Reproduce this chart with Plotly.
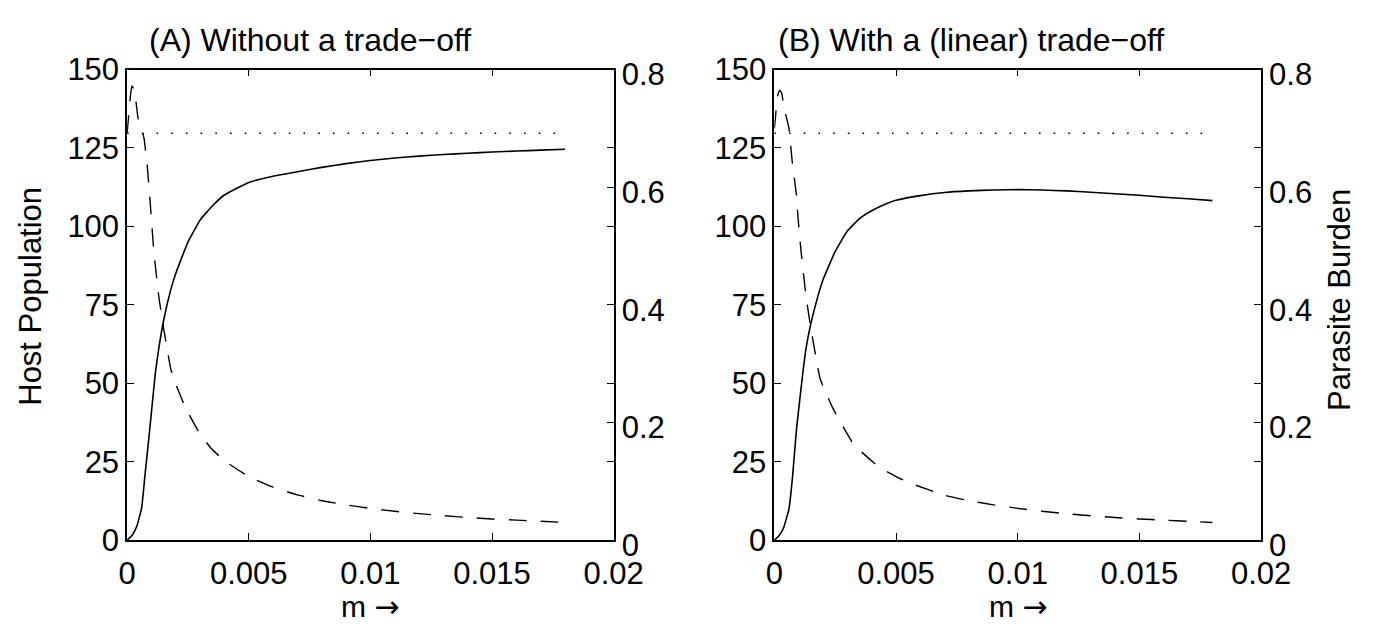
import plotly.graph_objects as go

# ---------------- data ----------------
# Panel A: without a trade-off
m_host_A = [0, 0.0002, 0.0004, 0.0006, 0.00073, 0.00093, 0.00116, 0.0013, 0.0015,
            0.0018, 0.002, 0.0025, 0.003, 0.0035, 0.004, 0.005, 0.006, 0.007, 0.008, 0.009,
            0.01, 0.011, 0.012, 0.013, 0.014, 0.015, 0.016, 0.017, 0.018]
host_A = [0, 1.5, 4.4, 10.4, 20.3, 35.3, 53.2, 61, 70,
          80, 85, 95, 102, 106.5, 110, 114, 116, 117.4, 118.8, 120.0,
          121.0, 121.8, 122.4, 122.9, 123.3, 123.7, 124.0, 124.3, 124.6]

m_para_A = [0, 0.00005, 0.0001, 0.00015, 0.0002, 0.0003, 0.00045, 0.0006, 0.0007, 0.00083,
            0.00097, 0.0011, 0.0013, 0.0015, 0.0018, 0.002, 0.0024, 0.003, 0.0035, 0.004,
            0.005, 0.006, 0.007, 0.008, 0.009, 0.01, 0.011, 0.012, 0.013, 0.014, 0.015,
            0.016, 0.017, 0.018]
para_A = [0.692, 0.715, 0.74, 0.76, 0.772, 0.765, 0.717, 0.70, 0.682, 0.635,
          0.562, 0.49, 0.415, 0.36, 0.29, 0.265, 0.225, 0.18, 0.154, 0.135,
          0.108, 0.09, 0.077, 0.067, 0.06, 0.054, 0.049, 0.045, 0.0415, 0.0385, 0.036,
          0.034, 0.032, 0.030]

# Panel B: with a (linear) trade-off
m_host_B = [0, 0.0002, 0.00037, 0.0006, 0.00075, 0.00091, 0.00117, 0.0013, 0.0015,
            0.0018, 0.002, 0.0025, 0.003, 0.0035, 0.004, 0.0046, 0.005, 0.006, 0.007, 0.008,
            0.009, 0.01, 0.011, 0.012, 0.013, 0.014, 0.015, 0.016, 0.017, 0.018]
host_B = [0, 1.5, 3.7, 9.9, 20.3, 35.3, 53.2, 61, 69,
          78, 83, 92, 98.5, 102.5, 105, 107.2, 108.3, 109.8, 110.8, 111.3,
          111.6, 111.7, 111.6, 111.3, 110.9, 110.4, 109.9, 109.3, 108.8, 108.2]

m_para_B = [0, 0.00005, 0.0001, 0.00015, 0.00022, 0.0003, 0.0004, 0.0006, 0.00073, 0.00091,
            0.00097, 0.0011, 0.0013, 0.0015, 0.00187, 0.002, 0.00242, 0.00318, 0.0035, 0.00431,
            0.005, 0.00563, 0.00703, 0.008, 0.009, 0.01, 0.011, 0.012, 0.013, 0.014, 0.015,
            0.016, 0.017, 0.018]
para_B = [0.70, 0.72, 0.745, 0.758, 0.765, 0.76, 0.735, 0.70, 0.645, 0.586,
          0.55, 0.49, 0.415, 0.36, 0.276, 0.262, 0.223, 0.168, 0.153, 0.124,
          0.108, 0.096, 0.076, 0.067, 0.06, 0.054, 0.049, 0.045, 0.0415, 0.0385, 0.036,
          0.034, 0.032, 0.030]

# dotted reference level (left axis units)
m_ref = [0, 0.018]
ref_level = [129.7, 129.7]

x_ticks = [0, 0.005, 0.01, 0.015, 0.02]
x_ticktext = ["0", "0.005", "0.01", "0.015", "0.02"]
y_ticks = [0, 25, 50, 75, 100, 125, 150]
y_ticktext = ["0", "25", "50", "75", "100", "125", "150"]
y2_ticks = [0, 0.2, 0.4, 0.6, 0.8]
y2_ticktext = ["0", "0.2", "0.4", "0.6", "0.8"]

titles = ["(A) Without a trade\u2212off", "(B) With a (linear) trade\u2212off"]
x_title = "m <span style=\"font-family:'DejaVu Sans'\">\u2192</span>"
y_title = "Host Population"
y2_title = "Parasite Burden"

# ---------------- figure ----------------
W, H = 1398, 640
FONT = "Liberation Sans"
FS = 30

def px_x(p):
    return p / W

def px_y(p):
    return 1 - p / H

box_A = (121.5, 622.0)
box_B = (787.3, 1288.0)
top, bottom = 56.0, 558.0

fig = go.Figure()

line_solid = dict(color="black", width=1.6, shape="spline", smoothing=0.35)
line_dash = dict(color="black", width=1.4, dash="18px,14px", shape="spline", smoothing=0.35)
line_dot = dict(color="black", width=1.6, dash="1.6px,13.1px")

fig.add_trace(go.Scatter(x=m_ref, y=ref_level, mode="lines", line=line_dot, xaxis="x", yaxis="y"))
fig.add_trace(go.Scatter(x=m_host_A, y=host_A, mode="lines", line=line_solid, xaxis="x", yaxis="y"))
fig.add_trace(go.Scatter(x=m_para_A, y=para_A, mode="lines", line=line_dash, xaxis="x", yaxis="y2"))

fig.add_trace(go.Scatter(x=m_ref, y=ref_level, mode="lines", line=line_dot, xaxis="x2", yaxis="y3"))
fig.add_trace(go.Scatter(x=m_host_B, y=host_B, mode="lines", line=line_solid, xaxis="x2", yaxis="y3"))
fig.add_trace(go.Scatter(x=m_para_B, y=para_B, mode="lines", line=line_dash, xaxis="x2", yaxis="y4"))

ydom = [px_y(bottom), px_y(top)]

common_axis = dict(
    showgrid=False, zeroline=False, showline=True, linecolor="black", linewidth=1.6,
    ticks="inside", ticklen=7, tickwidth=1.3, tickcolor="black",
    tickfont=dict(family=FONT, size=FS + 1, color="black"),
)

def xaxis(dom, anchor):
    return dict(common_axis, domain=dom, anchor=anchor, range=[0, 0.02],
                tickvals=x_ticks, ticktext=x_ticktext, mirror="ticks",
                ticklabelstandoff=5)

def yleft(anchor):
    return dict(common_axis, domain=ydom, anchor=anchor, range=[0, 150],
                tickvals=y_ticks, ticktext=y_ticktext, mirror="ticks")

def yright(anchor, over):
    return dict(common_axis, domain=ydom, anchor=anchor, overlaying=over, side="right",
                range=[0, 0.8], tickvals=y2_ticks, ticktext=y2_ticktext,
                ticklabelshift=5)

fig.update_layout(
    width=W, height=H,
    margin=dict(l=0, r=0, t=0, b=0),
    paper_bgcolor="white", plot_bgcolor="white",
    showlegend=False,
    font=dict(family=FONT, size=FS, color="black"),
    xaxis=xaxis([px_x(box_A[0]), px_x(box_A[1])], "y"),
    yaxis=yleft("x"),
    yaxis2=yright("x", "y"),
    xaxis2=xaxis([px_x(box_B[0]), px_x(box_B[1])], "y3"),
    yaxis3=yleft("x2"),
    yaxis4=yright("x2", "y3"),
)

ann = []
ann.append(dict(text=titles[0], x=px_x(310), y=px_y(25), xref="paper", yref="paper",
                xanchor="center", yanchor="middle", showarrow=False,
                font=dict(family=FONT, size=FS + 2, color="black")))
ann.append(dict(text=titles[1], x=px_x(990), y=px_y(25), xref="paper", yref="paper",
                xanchor="center", yanchor="middle", showarrow=False,
                font=dict(family=FONT, size=FS + 2, color="black")))
for b in (box_A, box_B):
    ann.append(dict(text=x_title, x=px_x((b[0] + b[1]) / 2), y=px_y(629), xref="paper", yref="paper",
                    xanchor="center", yanchor="middle", showarrow=False, borderpad=0,
                    font=dict(family=FONT, size=FS, color="black")))
ann.append(dict(text=y_title, x=px_x(22), y=px_y(298), xref="paper", yref="paper",
                xanchor="center", yanchor="middle", showarrow=False, textangle=-90,
                font=dict(family=FONT, size=FS + 1, color="black")))
ann.append(dict(text=y2_title, x=px_x(1368), y=px_y(302), xref="paper", yref="paper",
                xanchor="center", yanchor="middle", showarrow=False, textangle=-90,
                font=dict(family=FONT, size=FS + 1, color="black")))
fig.update_layout(annotations=ann)

fig.write_html("out.html")
